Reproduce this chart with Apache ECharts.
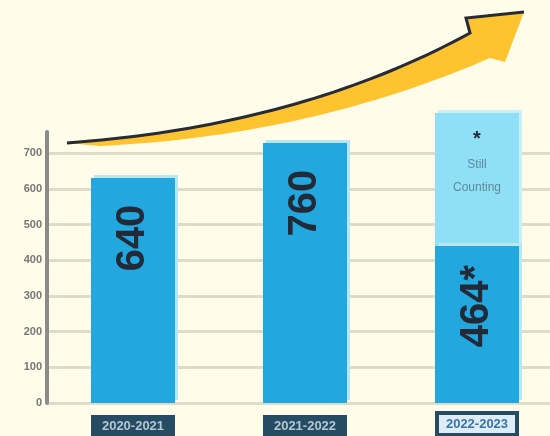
<!DOCTYPE html>
<html>
  <head>
    <meta charset="utf-8">
    <title>Seasons</title>
    <style>
      html, body { margin: 0; padding: 0; background: #fffcea; }
      #main { width: 550px; height: 436px; }
    </style>
    <script src="https://cdn.jsdelivr.net/npm/echarts@6.0.0/dist/echarts.min.js"></script>
  </head>
  <body>
    <div id="main"></div>
    <script type="text/javascript">

      // data
      var seasons = ['2020-2021', '2021-2022', '2022-2023'];
      var countedHeights = [631, 729, 440];      // bar heights as drawn
      var stillCounting = [null, null, 373];     // light part on top of last bar
      var barLabels = ['640', '760', '464*'];    // numbers printed on bars
      var yMax = 760;
      var yStep = 100;

      // decorative growth arrow (quadratic curves sampled into a polygon)
      function quad(p0, c, p1, n) {
        var pts = [];
        for (var i = 0; i <= n; i++) {
          var t = i / n, u = 1 - t;
          pts.push([u * u * p0[0] + 2 * t * u * c[0] + t * t * p1[0],
                    u * u * p0[1] + 2 * t * u * c[1] + t * t * p1[1]]);
        }
        return pts;
      }
      var upperEdge = quad([67, 143], [300, 126], [470, 33], 40);
      var lowerEdge = quad([490, 58], [310, 136], [100, 146], 40);
      var arrowBody = upperEdge.concat([[466, 18], [524, 12], [505, 62]], lowerEdge);
      var arrowLine = upperEdge.concat([[466, 18], [524, 12]]);

      var chart = echarts.init(document.getElementById('main'));

      var option = {
        backgroundColor: '#fffcea',
        animation: false,
        textStyle: { fontFamily: 'Liberation Sans, Arial, sans-serif' },
        grid: { left: 47, top: 132, width: 516, height: 271, outerBoundsMode: 'none' },
        xAxis: {
          type: 'category',
          data: seasons,
          axisLine: { show: false },
          axisTick: { show: false },
          axisLabel: {
            margin: 12,
            formatter: function (v, i) {
              return i === seasons.length - 1 ? '{hi|' + v + '}' : '{lo|' + v + '}';
            },
            rich: {
              lo: {
                backgroundColor: '#254c63', color: '#b4c6d2',
                width: 84, height: 22, lineHeight: 22, align: 'center',
                fontSize: 13, fontWeight: 'bold'
              },
              hi: {
                backgroundColor: '#dcedf7', color: '#3d72a4',
                borderColor: '#254c63', borderWidth: 4,
                width: 76, height: 18, lineHeight: 18, align: 'center',
                fontSize: 13, fontWeight: 'bold'
              }
            }
          }
        },
        yAxis: {
          type: 'value',
          min: 0,
          max: yMax,
          interval: yStep,
          axisLine: { show: true, lineStyle: { color: '#8b8b8b', width: 4 } },
          axisTick: { show: false },
          axisLabel: {
            color: '#767676', fontSize: 11, fontWeight: 'bold',
            margin: 5, showMaxLabel: false
          },
          splitLine: { showMaxLine: false, lineStyle: { color: '#dfdbca', width: 3 } }
        },
        series: [
          {
            name: 'counted',
            type: 'bar',
            stack: 'total',
            data: countedHeights,
            barWidth: 84,
            z: 3,
            itemStyle: {
              color: '#22a7df',
              shadowColor: '#b6e7f2', shadowOffsetX: 3, shadowOffsetY: -3, shadowBlur: 0
            },
            label: {
              show: true,
              formatter: function (p) { return barLabels[p.dataIndex]; },
              position: ['50%', 60],
              rotate: 90,
              align: 'center',
              verticalAlign: 'middle',
              fontSize: 40,
              fontWeight: 'bold',
              fontFamily: '"Liberation Sans Narrow", "Liberation Sans", sans-serif',
              color: '#222a38'
            }
          },
          {
            name: 'still counting',
            type: 'bar',
            stack: 'total',
            data: stillCounting,
            barWidth: 84,
            clip: false,
            z: 2,
            itemStyle: {
              color: '#8fdff7',
              shadowColor: '#c8f0f8', shadowOffsetX: 3, shadowOffsetY: -3, shadowBlur: 0
            },
            label: {
              show: true,
              position: ['50%', 12],
              align: 'center',
              verticalAlign: 'top',
              formatter: '{s|*}\n{t|Still}\n{t|Counting}',
              rich: {
                s: { fontSize: 20, fontWeight: 'bold', color: '#252a35', lineHeight: 28 },
                t: { fontSize: 12, color: '#5f8a98', lineHeight: 23 }
              }
            }
          }
        ],
        graphic: [
          {
            type: 'polygon',
            z: 10,
            shape: { points: arrowBody },
            style: { fill: '#fec42f' }
          },
          {
            type: 'polyline',
            z: 11,
            shape: { points: arrowLine },
            style: { fill: null, stroke: '#272b36', lineWidth: 3 }
          }
        ]
      };

      chart.setOption(option);
    </script>
  </body>
</html>
